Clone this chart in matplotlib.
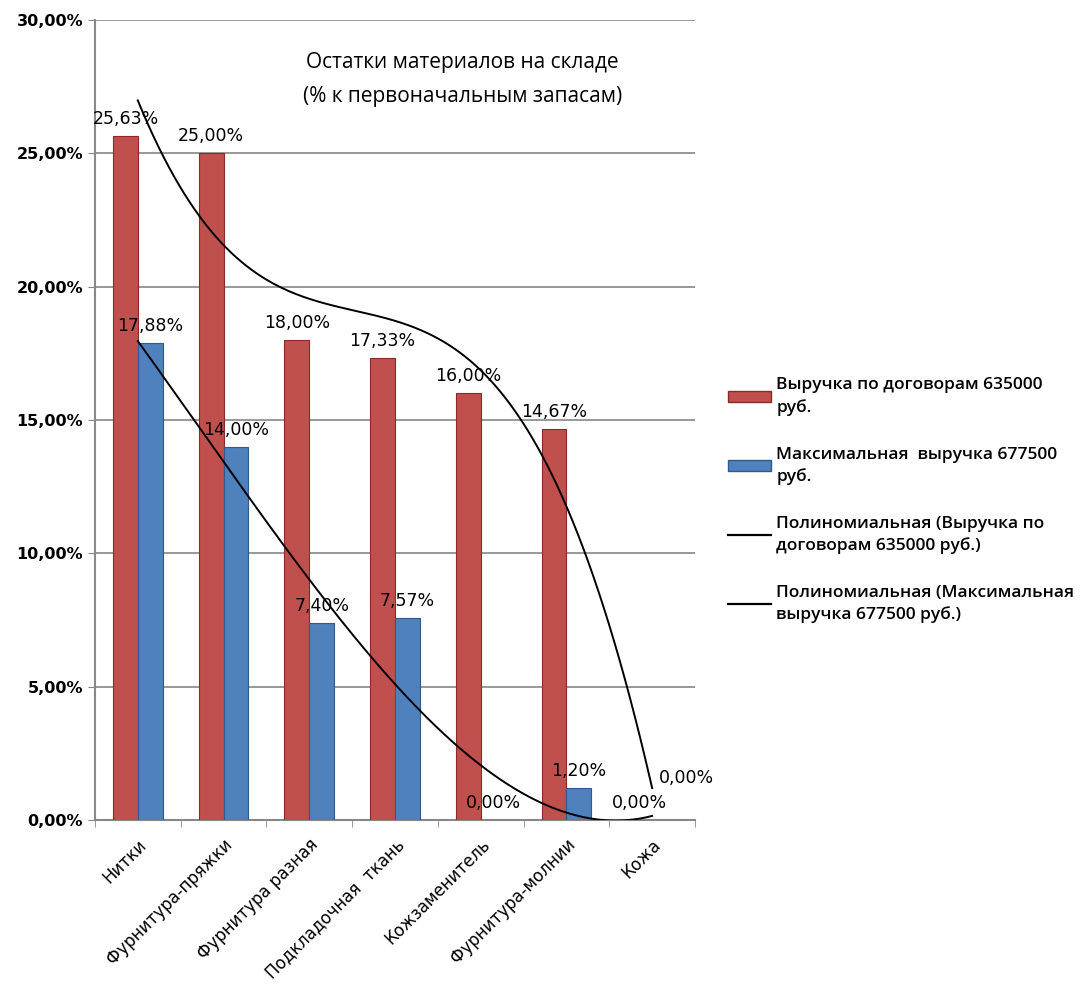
import numpy as np
import matplotlib.pyplot as plt
from matplotlib.patches import Patch
from matplotlib.lines import Line2D
from matplotlib.ticker import FuncFormatter

categories = ['Нитки', 'Фурнитура-пряжки', 'Фурнитура разная', 'Подкладочная  ткань',
              'Кожзаменитель', 'Фурнитура-молнии', 'Кожа']
red_vals = [25.63, 25.00, 18.00, 17.33, 16.00, 14.67, 0.00]
blue_vals = [17.88, 14.00, 7.40, 7.57, 0.00, 1.20, 0.00]
red_name = 'Выручка по договорам 635000\nруб.'
blue_name = 'Максимальная  выручка 677500\nруб.'
trend_red_name = 'Полиномиальная (Выручка по\nдоговорам 635000 руб.)'
trend_blue_name = 'Полиномиальная (Максимальная\nвыручка 677500 руб.)'
title = 'Остатки материалов на складе\n(% к первоначальным запасам)'

RED = '#C0504D'
BLUE = '#4F81BD'

fig = plt.figure(figsize=(10.89, 9.86), dpi=100)
ax = fig.add_axes([0.0872, 0.168, 0.551, 0.812])

x = np.arange(len(categories))
w = 0.29
bars_r = ax.bar(x - w / 2, red_vals, w, color=RED, edgecolor='#8B2A27', linewidth=0.8, zorder=3)
bars_b = ax.bar(x + w / 2, blue_vals, w, color=BLUE, edgecolor='#2F5A8F', linewidth=0.8, zorder=3)

# cubic trendlines, like Excel's polynomial trendline
xs = np.linspace(0, 6, 300)
pr = np.polyfit(x, red_vals, 3)
pb = np.polyfit(x, blue_vals, 3)
ax.plot(xs, np.polyval(pr, xs), color='black', lw=1.4, zorder=4)
ax.plot(xs, np.polyval(pb, xs), color='black', lw=1.4, zorder=4)

# data labels (last category labels were moved by hand in the original)
red_off = [(0, 8)] * 6 + [(47, 33)]
blue_off = [(0, 8)] * 6 + [(-25, 8)]
for b, v, off in zip(bars_r, red_vals, red_off):
    ax.annotate(f'{v:.2f}%'.replace('.', ','), (b.get_x() + b.get_width() / 2, v),
                xytext=off, textcoords='offset pixels', ha='center', va='bottom',
                fontsize=12.5, fontweight='medium', zorder=5)
for b, v, off in zip(bars_b, blue_vals, blue_off):
    ax.annotate(f'{v:.2f}%'.replace('.', ','), (b.get_x() + b.get_width() / 2, v),
                xytext=off, textcoords='offset pixels', ha='center', va='bottom',
                fontsize=12.5, fontweight='medium', zorder=5)

ax.set_xlim(-0.5, 6.5)
ax.set_ylim(0, 30)
ax.set_yticks(np.arange(0, 31, 5))
ax.yaxis.set_major_formatter(FuncFormatter(lambda v, p: f'{v:.2f}%'.replace('.', ',')))
ax.tick_params(axis='y', labelsize=11.5, length=5, color='#888888')
for lbl in ax.get_yticklabels():
    lbl.set_fontweight('bold')
ax.grid(axis='y', color='#888888', lw=1.2, zorder=0)

ax.set_xticks(x)
ax.set_xticklabels(categories, rotation=45, ha='right', rotation_mode='anchor',
                   fontsize=12)
ax.tick_params(axis='x', which='major', length=0, pad=11)
ax.set_xticks(np.arange(-0.5, 7, 1), minor=True)
ax.tick_params(axis='x', which='minor', length=5, color='#888888')

for s in ['top', 'right']:
    ax.spines[s].set_visible(False)
for s in ['left', 'bottom']:
    ax.spines[s].set_color('#888888')
    ax.spines[s].set_linewidth(1.5)

ax.text(0.613, 0.96, title, transform=ax.transAxes, ha='center', va='top',
        fontsize=15, family='Open Sans', linespacing=1.85)

handles = [Patch(facecolor=RED, edgecolor='#8B2A27'),
           Patch(facecolor=BLUE, edgecolor='#2F5A8F'),
           Line2D([], [], color='black', lw=1.6),
           Line2D([], [], color='black', lw=1.6)]
labels = [red_name, blue_name, trend_red_name, trend_blue_name]
leg = fig.legend(handles, labels, loc='upper left', bbox_to_anchor=(0.654, 0.633),
                 frameon=False, prop={'family': 'Open Sans', 'size': 12.5, 'weight': 600},
                 handlelength=2.5, handleheight=0.6, handletextpad=0.3,
                 labelspacing=1.75)
for t in leg.get_texts():
    t.set_linespacing(1.45)

fig.savefig('out.png')
